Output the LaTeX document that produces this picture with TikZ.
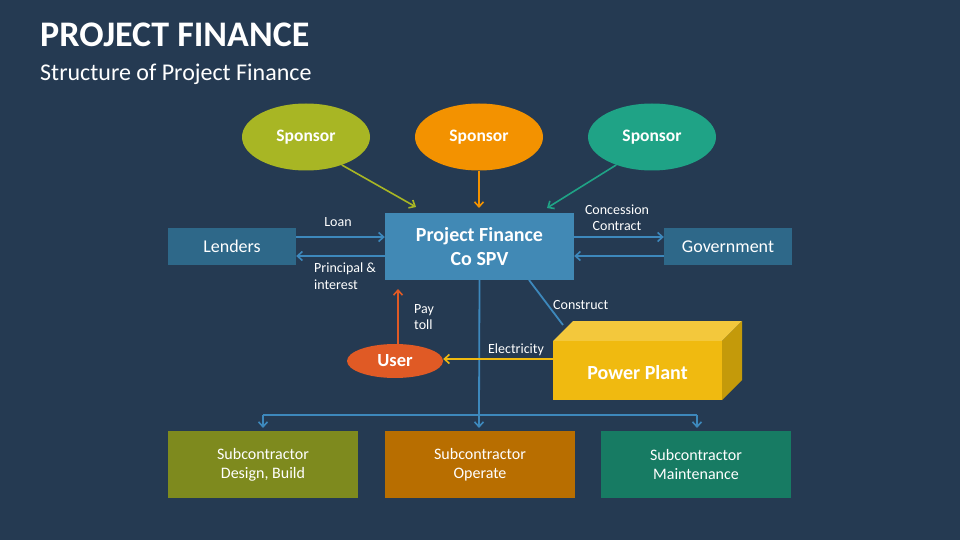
\documentclass[tikz,border=0pt]{standalone}
\usepackage{fontspec}
\setmainfont{Carlito}
\usetikzlibrary{arrows.meta,shapes.geometric}
\definecolor{bg}{HTML}{253A52}
\definecolor{spv}{HTML}{4189B5}
\definecolor{side}{HTML}{2E6889}
\definecolor{lnk}{HTML}{3D88BC}
\definecolor{sponA}{HTML}{A8B624}
\definecolor{sponB}{HTML}{F39200}
\definecolor{sponC}{HTML}{1FA386}
\definecolor{userc}{HTML}{E05A25}
\definecolor{ppfront}{HTML}{F0BA10}
\definecolor{pptop}{HTML}{F3C83C}
\definecolor{ppside}{HTML}{C49A0A}
\definecolor{subA}{HTML}{7E8A1E}
\definecolor{subB}{HTML}{B86E00}
\definecolor{subC}{HTML}{177B63}
\tikzset{
  sponsor/.style={ellipse, minimum width=128pt, minimum height=67pt, text=white, font=\fontsize{17.5}{20}\selectfont\bfseries, inner sep=0pt},
  sidebox/.style={rectangle, fill=side, minimum width=128pt, minimum height=37pt, text=white, font=\fontsize{18}{20}\selectfont, inner sep=0pt},
  subbox/.style={rectangle, minimum width=190pt, minimum height=67pt, text=white, font=\fontsize{16}{19}\selectfont, align=center, inner sep=0pt},
  lbl/.style={text=white, font=\fontsize{14}{16.5}\selectfont, inner sep=0pt, align=left},
  conn/.style={line width=1.8pt, draw=lnk},
  arr/.style={-{Straight Barb[length=5pt,width=9pt,line width=1.6pt]}},
}
\begin{document}
\begin{tikzpicture}[x=1pt,y=-1pt]
\fill[bg] (0,0) rectangle (960,540);
\useasboundingbox (0,0) rectangle (960,540);
% titles
\node[anchor=base west, text=white, inner sep=0pt, font=\fontsize{36}{38}\selectfont\bfseries] (title) at (40,47) {PROJECT FINANCE};
\node[anchor=base west, text=white, inner sep=0pt, font=\fontsize{24}{26}\selectfont] (subtitle) at (40,81) {Structure of Project Finance};
% sponsors
\node[sponsor, fill=sponA] (s1) at (306,137) {Sponsor};
\node[sponsor, fill=sponB] (s2) at (479,137) {Sponsor};
\node[sponsor, fill=sponC] (s3) at (652,137) {Sponsor};
% SPV
\node[rectangle, fill=spv, minimum width=189pt, minimum height=67pt, text=white, align=center, font=\fontsize{20}{24}\selectfont\bfseries, inner sep=0pt] (spv) at (479.5,246.5) {Project Finance\\Co SPV};
% side boxes
\node[sidebox] (lenders) at (232,246.5) {Lenders};
\node[sidebox] (gov) at (728,246.5) {Government};
% sponsor arrows
\coordinate (a1e) at (416,207);
\draw[line width=1.6pt, draw=sponA, arr] (s1.-38) -- (a1e);
\draw[line width=1.6pt, draw=sponB, arr] (s2.south) -- (479,208);
\draw[line width=1.6pt, draw=sponC, arr] (s3.-142) -- (547,208);
% lenders arrows
\draw[conn, arr] (lenders.east |- 0,237) coordinate (l1) -- (spv.west |- l1);
\draw[conn, arr] (spv.west |- 0,256) coordinate (l2) -- (lenders.east |- l2);
\node[lbl, anchor=base] (loanl) at (338,226) {Loan};
\node[lbl, anchor=north west] (pril) at (314,263) {Principal \&\\interest};
% government arrows
\draw[conn, arr] (spv.east |- 0,237) coordinate (g1) -- (gov.west |- g1);
\draw[conn, arr] (gov.west |- 0,256) coordinate (g2) -- (spv.east |- g2);
\node[lbl, anchor=south, align=center] (conl) at (617,231) {Concession\\Contract};
% power plant
\fill[pptop] (553,341) -- (573,321) -- (742,321) -- (722,341) -- cycle;
\fill[ppside] (722,341) -- (742,321) -- (742,380) -- (722,400) -- cycle;
\node[rectangle, fill=ppfront, minimum width=169pt, minimum height=59pt, inner sep=0pt] (pp) at (637.5,370.5) {};
\node[text=white, font=\fontsize{20}{22}\selectfont\bfseries, inner sep=0pt] (ppl) at (637.5,373) {Power Plant};
% vertical trunk
\coordinate (trunk) at (479,415);
\coordinate (bl) at (263,415);
\coordinate (br) at (697,415);
\draw[conn] (spv.south) -- (trunk);
\draw[conn] (bl) -- (br);
% construct line
\coordinate (ppc) at (563,325);
\draw[conn] (529,280) -- (ppc);
\node[lbl, anchor=west] (conl2) at (553,305) {Construct};
% user
\node[ellipse, fill=userc, minimum width=96pt, minimum height=34pt, inner sep=0pt, text=white, font=\fontsize{18.5}{20}\selectfont\bfseries] (user) at (395,361) {User};
\draw[line width=1.8pt, draw=ppfront, arr] (pp.west |- 0,359) -- (user.east |- 0,359);
\node[lbl, anchor=base] (elec) at (516,353) {Electricity};
\draw[line width=1.8pt, draw=userc, arr] (398,344) -- (398,289);
\node[lbl, anchor=north west] (payl) at (414,304) {Pay\\toll};
% subcontractors
\node[subbox, fill=subA] (sub1) at (263,464.5) {Subcontractor\\Design, Build};
\node[subbox, fill=subB] (sub2) at (480,464.5) {Subcontractor\\Operate};
\node[subbox, fill=subC] (sub3) at (696,464.5) {Subcontractor\\Maintenance};
\draw[conn, arr] (bl) -- (263,428);
\draw[conn, arr] (trunk) -- (479,428);
\draw[conn, arr] (br) -- (697,428);
\end{tikzpicture}
\end{document}
